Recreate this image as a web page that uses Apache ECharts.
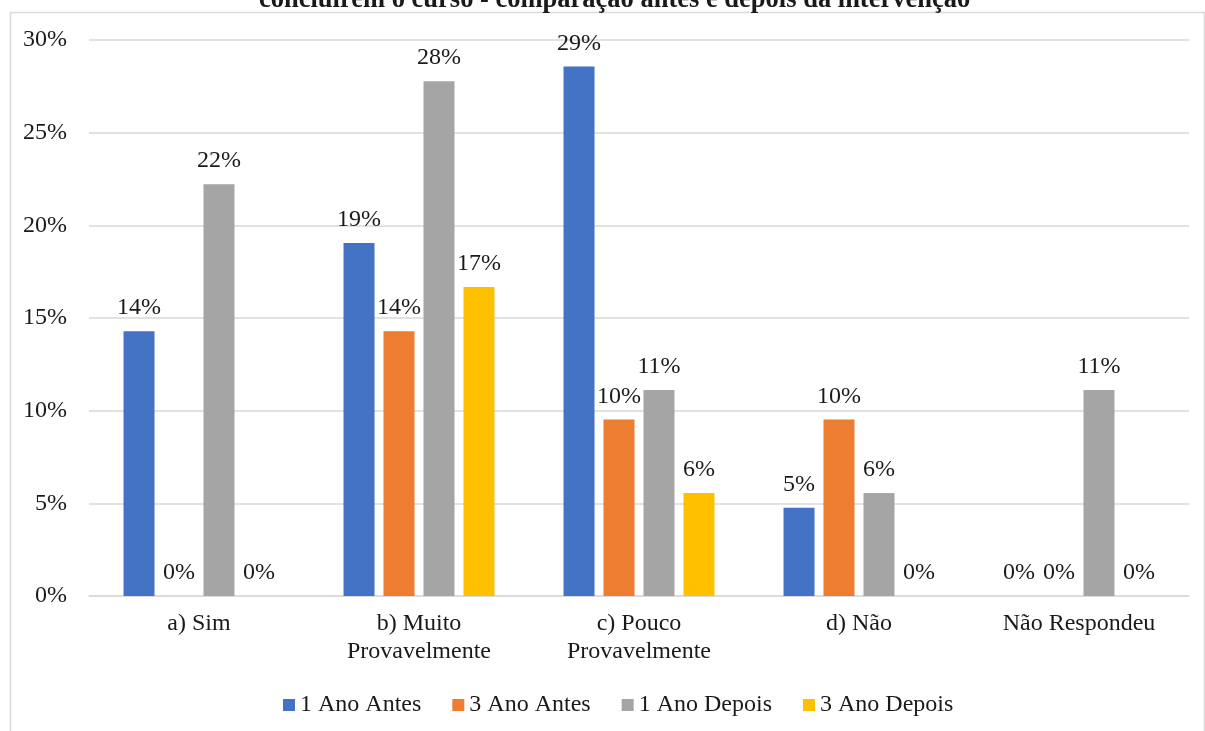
<!DOCTYPE html>
<html>
<head>
<meta charset="utf-8">
<script src="https://cdn.jsdelivr.net/npm/echarts@6/dist/echarts.min.js"></script>
<style>
  html, body { margin: 0; padding: 0; background: #fff; }
  #chart { width: 1205px; height: 731px; }
</style>
</head>
<body>
<div id="chart"></div>
<script>
// Answer categories
const categories = ['a) Sim', 'b) Muito\nProvavelmente', 'c) Pouco\nProvavelmente', 'd) Não', 'Não Respondeu'];

// Share of students per answer (%)
const umAnoAntes    = [14.29, 19.05, 28.57, 4.76, 0];
const tresAnoAntes  = [0, 14.29, 9.52, 9.52, 0];
const umAnoDepois   = [22.22, 27.78, 11.11, 5.56, 11.11];
const tresAnoDepois = [0, 16.67, 5.56, 0, 0];

const seriesNames = ['1 Ano Antes', '3 Ano Antes', '1 Ano Depois', '3 Ano Depois'];
const seriesData = [umAnoAntes, tresAnoAntes, umAnoDepois, tresAnoDepois];
const colors = ['#4472C4', '#ED7D31', '#A5A5A5', '#FFC000'];

const titleText = 'concluírem o curso - comparação antes e depois da intervenção';

const FONT = "'Liberation Serif', 'Times New Roman', serif";
const TEXT = '#1a1a1a';
const FS = 24;

const chart = echarts.init(document.getElementById('chart'));

chart.setOption({
  animation: false,
  color: colors,
  textStyle: { fontFamily: FONT },
  graphic: [{
    type: 'rect',
    left: 8, top: 10,
    shape: { width: 1194, height: 740 },
    style: { fill: 'none', stroke: '#d9d9d9', lineWidth: 1.5 },
    silent: true, z: -1
  }],
  title: {
    text: titleText,
    left: 259,
    top: -13,
    padding: 0,
    textStyle: { fontFamily: FONT, fontSize: 26.5, fontWeight: 'bold', color: TEXT }
  },
  legend: {
    top: 688,
    left: 278,
    itemWidth: 12,
    itemHeight: 12,
    itemGap: 31,
    icon: 'rect',
    textStyle: { fontFamily: FONT, fontSize: FS, color: TEXT },
    data: seriesNames
  },
  grid: { left: 89, right: 16, top: 40, bottom: 135 },
  xAxis: {
    type: 'category',
    data: categories,
    axisTick: { show: false },
    axisLine: { lineStyle: { color: '#d9d9d9', width: 1.5 } },
    axisLabel: { fontFamily: FONT, fontSize: FS, color: TEXT, margin: 14, lineHeight: 28, interval: 0 }
  },
  yAxis: {
    type: 'value',
    min: 0, max: 30, interval: 5,
    axisLine: { show: false },
    axisTick: { show: false },
    splitLine: { lineStyle: { color: '#d9d9d9', width: 1.5 } },
    axisLabel: { fontFamily: FONT, fontSize: FS, color: TEXT, margin: 22, formatter: '{value}%' }
  },
  series: seriesData.map((d, i) => ({
    name: seriesNames[i],
    type: 'bar',
    data: d,
    barWidth: 31,
    barGap: '29%',
    barCategoryGap: '31%',
    label: {
      show: true,
      position: 'top',
      distance: 11,
      fontFamily: FONT,
      fontSize: FS,
      color: TEXT,
      formatter: p => Math.round(p.value) + '%'
    }
  }))
});
</script>
</body>
</html>
